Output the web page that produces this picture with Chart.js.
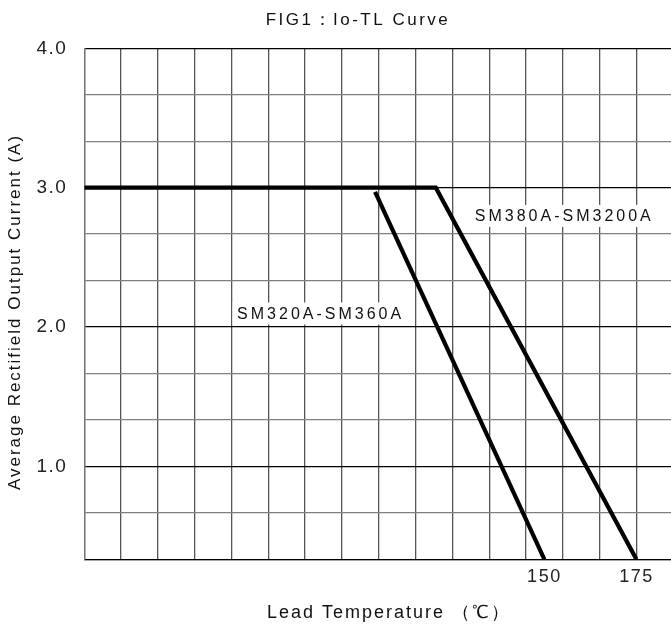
<!DOCTYPE html>
<html>
<head>
<meta charset="utf-8">
<script src="https://cdn.jsdelivr.net/npm/chart.js@4.4.1/dist/chart.umd.min.js"></script>
<style>
  html, body { margin:0; padding:0; background:#fff; }
  #wrap { width:671px; height:628px; position:relative; }
</style>
</head>
<body>
<div id="wrap"><canvas id="chartIo"></canvas></div>
<script>
// ---------- DATA ----------
const seriesNames = ["SM320A-SM360A", "SM380A-SM3200A"];
const tempLow  = [104, 150];            // Lead temperature (°C)
const currLow  = [2.97, 0.333];         // Average output current (A)
const tempHigh = [25, 120.5, 175];
const currHigh = [3.0, 3.0, 0.333];

const xGridTicks = [25, 35, 45, 55, 65, 75, 85, 95, 105, 115, 125, 135, 145, 155, 165, 175];
const xLabelTicks = [150, 175];
const yGridTicks = [1/3, 2/3, 1, 4/3, 5/3, 2, 7/3, 8/3, 3, 10/3, 11/3, 4];
const yLabelTicks = [1, 2, 3, 4];

const FONT = '"Liberation Sans", Arial, sans-serif';

// ---------- TEXT PLUGIN ----------
const textPlugin = {
  id: "textPlugin",
  beforeDraw(chart) {
    // spaced-out digits like the datasheet scan
    chart.ctx.letterSpacing = "1.5px";
  },
  beforeDatasetsDraw(chart) {
    const ctx = chart.ctx;
    const x = chart.scales.x, y = chart.scales.y;
    ctx.save();
    ctx.font = "16px " + FONT;
    ctx.letterSpacing = "3px";
    ctx.textBaseline = "middle";
    ctx.textAlign = "center";
    // label boxes hide the grid behind them
    const labels = [
      { text: seriesNames[0], t: 88.8, c: 2.09 },
      { text: seriesNames[1], t: 155, c: 2.79 }
    ];
    labels.forEach(l => {
      const px = x.getPixelForValue(l.t), py = y.getPixelForValue(l.c);
      const w = ctx.measureText(l.text).width;
      ctx.fillStyle = "#fff";
      ctx.fillRect(px - w / 2 - 3, py - 12, w + 6, 22);
      ctx.fillStyle = "#111";
      ctx.fillText(l.text, px + 1.5, py);
    });
    ctx.restore();
  },
  afterDraw(chart) {
    const ctx = chart.ctx;
    ctx.save();
    ctx.fillStyle = "#111";
    ctx.textBaseline = "middle";
    ctx.textAlign = "center";
    ctx.font = "17px " + FONT;
    ctx.letterSpacing = "2.5px";
    ctx.fillText("FIG1：Io-TL Curve", 358, 20);
    ctx.font = "18px " + FONT;
    ctx.letterSpacing = "2px";
    ctx.fillText("Lead Temperature （℃）", 389, 613);
    ctx.letterSpacing = "2px";
    ctx.font = "17px " + FONT;
    ctx.translate(15, 312);
    ctx.rotate(-Math.PI / 2);
    ctx.fillText("Average Rectifield Output Current (A)", 0, 0);
    ctx.restore();
    ctx.letterSpacing = "0px";
  }
};

// ---------- CHART ----------
new Chart(document.getElementById("chartIo"), {
  type: "scatter",
  data: {
    datasets: [
      { label: seriesNames[0], data: tempLow.map((t, i) => ({ x: t, y: currLow[i] })) },
      { label: seriesNames[1], data: tempHigh.map((t, i) => ({ x: t, y: currHigh[i] })) }
    ].map(d => ({ ...d, showLine: true, borderColor: "#000", borderWidth: 4.2, pointRadius: 0, fill: false }))
  },
  options: {
    responsive: true,
    maintainAspectRatio: false,
    animation: false,
    layout: { padding: { top: 48.3, right: 0, left: 0, bottom: 0 } },
    plugins: { legend: { display: false }, tooltip: { enabled: false } },
    scales: {
      x: {
        type: "linear", min: 25, max: 184.4,
        afterBuildTicks: s => { s.ticks = [...xGridTicks, ...xLabelTicks.filter(v => !xGridTicks.includes(v))].sort((a, b) => a - b).map(v => ({ value: v })); },
        afterFit: s => { s.height = 68.7; },
        ticks: {
          autoSkip: false, maxRotation: 0, padding: 7, color: "#222",
          font: { family: FONT, size: 18 },
          callback: v => xLabelTicks.includes(v) ? String(v) : ""
        },
        grid: {
          drawTicks: false, lineWidth: 1.3,
          color: c => (c.tick && xGridTicks.includes(c.tick.value)) ? "#555" : "rgba(0,0,0,0)"
        },
        border: { color: "#000", width: 1.3 }
      },
      y: {
        type: "linear", min: 1/3, max: 4,
        afterBuildTicks: s => { s.ticks = yGridTicks.map(v => ({ value: v })); },
        afterFit: s => { s.width = 84.3; },
        ticks: {
          autoSkip: false, padding: 17, color: "#222",
          font: { family: FONT, size: 19 },
          callback: v => yLabelTicks.some(k => Math.abs(k - v) < 1e-6) ? v.toFixed(1) : ""
        },
        grid: {
          drawTicks: false, lineWidth: 1.3,
          color: c => (c.tick && yLabelTicks.some(k => Math.abs(k - c.tick.value) < 1e-6)) ? "#000" : "#808080"
        },
        border: { color: "#777", width: 1.3 }
      }
    }
  },
  plugins: [textPlugin]
});
</script>
</body>
</html>
